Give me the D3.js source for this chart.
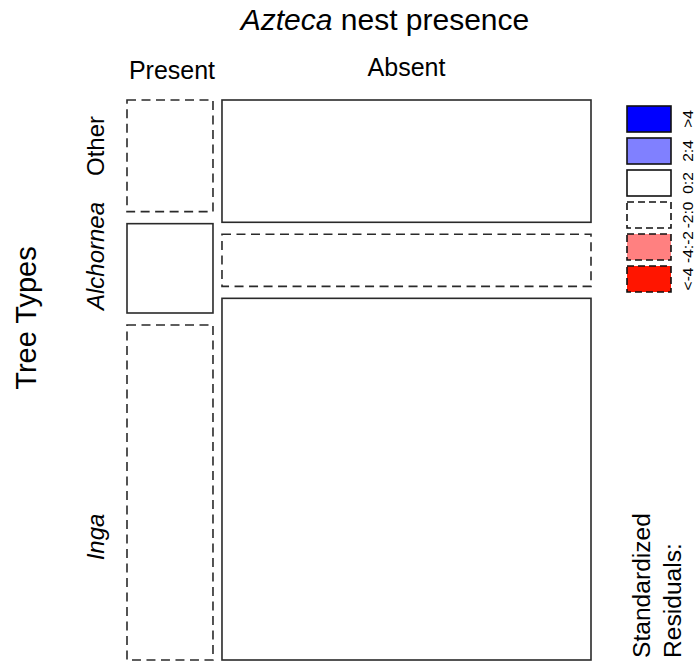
<!DOCTYPE html>
<html>
<head>
<meta charset="utf-8">
<script src="https://cdn.jsdelivr.net/npm/d3@7"></script>
<style>
  html, body { margin: 0; padding: 0; background: #fff; }
  svg { display: block; font-family: "Liberation Sans", Arial, Helvetica, sans-serif; }
</style>
</head>
<body>
<svg id="chart" width="698" height="668"></svg>
<script>
// Contingency table: nest presence (columns) x tree type (rows)
const nestStatus = ["Present", "Absent"];
const treeTypes = ["Other", "Alchornea", "Inga"];
const italicTypes = ["Alchornea", "Inga"];
const presentCounts = [10, 8, 30];
const absentCounts = [47, 20, 139];

// Shading legend bins (top to bottom)
const residualBins = [">4", "2:4", "0:2", "-2:0", "-4:-2", "<-4"];
const binFills = ["#0000ff", "#8080ff", "#ffffff", "#ffffff", "#ff8080", "#ff1500"];
const binDashed = [false, false, false, true, true, true];

const svg = d3.select("#chart");
const W = 698, H = 668;
svg.append("rect").attr("width", W).attr("height", H).attr("fill", "#fff");

// Plot region
const plot = { left: 127, right: 591, top: 100, bottom: 660, gapX: 9, gapY: 12 };
const strokeCol = "#2a2a2a";
const dash = "9,5.5";

const counts = [presentCounts, absentCounts];
const colTotals = counts.map(c => d3.sum(c));
const N = d3.sum(colTotals);
const rowTotals = treeTypes.map((_, i) => presentCounts[i] + absentCounts[i]);

// Widths of columns proportional to column totals
const xScale = d3.scaleLinear().domain([0, N])
  .range([0, (plot.right - plot.left) - plot.gapX * (nestStatus.length - 1)]);

const cells = [];
let x0 = plot.left;
nestStatus.forEach((status, j) => {
  const w = xScale(colTotals[j]);
  const yScale = d3.scaleLinear().domain([0, colTotals[j]])
    .range([0, (plot.bottom - plot.top) - plot.gapY * (treeTypes.length - 1)]);
  let y0 = plot.top;
  treeTypes.forEach((t, i) => {
    const h = yScale(counts[j][i]);
    const expected = rowTotals[i] * colTotals[j] / N;
    const resid = (counts[j][i] - expected) / Math.sqrt(expected);
    cells.push({ status, type: t, x: x0, y: y0, w, h, resid, col: j });
    y0 += h + plot.gapY;
  });
  x0 += w + plot.gapX;
});

function fillFor(r) {
  if (r > 4) return binFills[0];
  if (r > 2) return binFills[1];
  if (r < -4) return binFills[5];
  if (r < -2) return binFills[4];
  return "#ffffff";
}

svg.append("g").selectAll("rect").data(cells).join("rect")
  .attr("x", d => d.x).attr("y", d => d.y)
  .attr("width", d => d.w).attr("height", d => d.h)
  .attr("fill", d => fillFor(d.resid))
  .attr("stroke", strokeCol).attr("stroke-width", 1.6)
  .attr("stroke-dasharray", d => d.resid < 0 ? dash : null);

// Title
const title = svg.append("text")
  .attr("x", 385).attr("y", 30)
  .attr("text-anchor", "middle").attr("font-size", 30).attr("fill", "#000");
title.append("tspan").attr("font-style", "italic").text("Azteca");
title.append("tspan").text(" nest presence");

// Column labels, centred over each column
const colCenters = nestStatus.map((s, j) => {
  const c = cells.find(d => d.col === j);
  return c.x + c.w / 2;
});
const colLabelY = [79, 76];
svg.append("g").selectAll("text").data(nestStatus).join("text")
  .attr("x", (d, j) => colCenters[j] + (j === 0 ? 2 : 0)).attr("y", (d, j) => colLabelY[j])
  .attr("text-anchor", "middle").attr("font-size", 25).attr("fill", "#000")
  .text(d => d);

// Row labels (rotated)
const rowLabelY = [146, 256, 537];
svg.append("g").selectAll("text").data(treeTypes).join("text")
  .attr("transform", (d, i) => `translate(104,${rowLabelY[i]}) rotate(-90)`)
  .attr("text-anchor", "middle").attr("font-size", 24).attr("fill", "#000")
  .attr("font-style", d => italicTypes.includes(d) ? "italic" : null)
  .text(d => d);

// Row variable name
svg.append("text")
  .attr("transform", "translate(36,318) rotate(-90)")
  .attr("text-anchor", "middle").attr("font-size", 29).attr("fill", "#000")
  .text("Tree Types");

// Shading legend
const legend = { x: 627, w: 44, h: 26, top: 106, step: 32 };
const lg = svg.append("g");
lg.selectAll("rect").data(residualBins).join("rect")
  .attr("x", legend.x).attr("y", (d, i) => legend.top + i * legend.step)
  .attr("width", legend.w).attr("height", legend.h)
  .attr("fill", (d, i) => binFills[i])
  .attr("stroke", "#111").attr("stroke-width", 1.6)
  .attr("stroke-dasharray", (d, i) => binDashed[i] ? "7,4" : null);
lg.selectAll("text").data(residualBins).join("text")
  .attr("transform", (d, i) => `translate(693,${legend.top + i * legend.step + legend.h / 2}) rotate(-90)`)
  .attr("text-anchor", "middle").attr("font-size", 15.5).attr("fill", "#000")
  .text(d => d);

// Legend title
const lt = svg.append("g").attr("font-size", 24.6).attr("fill", "#000");
lt.append("text").attr("transform", "translate(650,658) rotate(-90)").text("Standardized");
lt.append("text").attr("transform", "translate(681,658) rotate(-90)").text("Residuals:");
</script>
</body>
</html>
